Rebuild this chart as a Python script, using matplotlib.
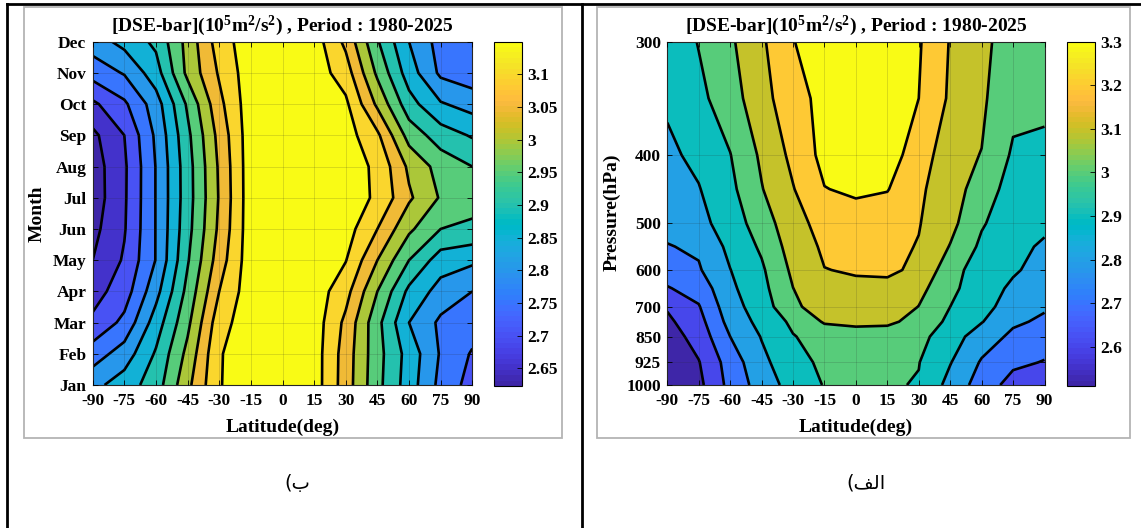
import numpy as np
import matplotlib
matplotlib.use('Agg')
import matplotlib.pyplot as plt
from matplotlib.colors import ListedColormap, Normalize
from matplotlib.cm import ScalarMappable
from matplotlib.lines import Line2D
from matplotlib.patches import Rectangle

plt.rcParams['font.family'] = ['Liberation Serif', 'DejaVu Sans']
plt.rcParams['font.weight'] = 'bold'
plt.rcParams['mathtext.fontset'] = 'custom'
plt.rcParams['mathtext.rm'] = 'Liberation Serif:bold'
plt.rcParams['mathtext.default'] = 'rm'
plt.rcParams['axes.unicode_minus'] = False

# ---------------- data ----------------
lat = [-90, -75, -60, -45, -30, -15, 0, 15, 30, 45, 60, 75, 90]
month_names = ['Jan', 'Feb', 'Mar', 'Apr', 'May', 'Jun',
               'Jul', 'Aug', 'Sep', 'Oct', 'Nov', 'Dec']

# DSE (1e5 m2/s2) per month (rows Jan..Dec) and latitude
dse_jan = [2.835, 2.875, 2.925, 3.037, 3.147, 3.18, 3.18, 3.175, 3.075, 2.965, 2.875, 2.785, 2.73]
dse_feb = [2.775, 2.823, 2.906, 3.014, 3.146, 3.18, 3.18, 3.175, 3.077, 2.968, 2.88, 2.795, 2.745]
dse_mar = [2.71, 2.763, 2.874, 2.988, 3.13, 3.18, 3.18, 3.177, 3.088, 2.965, 2.85, 2.79, 2.775]
dse_apr = [2.68, 2.725, 2.833, 2.965, 3.1, 3.18, 3.18, 3.178, 3.118, 3.0, 2.888, 2.83, 2.8]
dse_may = [2.65, 2.706, 2.802, 2.945, 3.075, 3.18, 3.18, 3.18, 3.152, 3.05, 2.95, 2.875, 2.86]
dse_jun = [2.635, 2.696, 2.802, 2.933, 3.06, 3.18, 3.18, 3.18, 3.172, 3.10, 3.01, 2.95, 2.94]
dse_jul = [2.623, 2.693, 2.802, 2.928, 3.054, 3.18, 3.18, 3.18, 3.176, 3.142, 3.058, 2.995, 2.97]
dse_aug = [2.625, 2.692, 2.802, 2.929, 3.057, 3.18, 3.18, 3.18, 3.176, 3.140, 3.04, 2.98, 2.95]
dse_sep = [2.638, 2.70, 2.809, 2.938, 3.066, 3.18, 3.18, 3.18, 3.172, 3.11, 2.98, 2.925, 2.895]
dse_oct = [2.69, 2.741, 2.826, 2.958, 3.086, 3.18, 3.18, 3.18, 3.16, 3.04, 2.92, 2.855, 2.83]
dse_nov = [2.77, 2.804, 2.878, 3.0125, 3.106, 3.18, 3.18, 3.177, 3.125, 2.99, 2.875, 2.79, 2.77]
dse_dec = [2.825, 2.866, 2.911, 3.017, 3.125, 3.18, 3.18, 3.175, 3.088, 2.955, 2.85, 2.78, 2.76]

# DSE per pressure level (rows) and latitude
plev = [300, 350, 400, 450, 500, 550, 600, 650, 700, 775, 850, 925, 1000]
dse_300 = [2.93, 3.005, 3.084, 3.184, 3.298, 3.33, 3.34, 3.33, 3.31, 3.194, 3.115, 3.07, 3.03]
dse_350 = [2.915, 2.975, 3.055, 3.165, 3.262, 3.33, 3.34, 3.33, 3.30, 3.185, 3.115, 3.03, 3.01]
dse_400 = [2.88, 2.924, 2.997, 3.117, 3.225, 3.33, 3.34, 3.33, 3.268, 3.122, 3.098, 2.986, 2.99]
dse_450 = [2.87, 2.895, 2.975, 3.095, 3.195, 3.297, 3.315, 3.305, 3.215, 3.15, 3.05, 2.96, 2.94]
dse_500 = [2.83, 2.87, 2.947, 3.05, 3.165, 3.235, 3.26, 3.24, 3.205, 3.13, 3.01, 2.94, 2.915]
dse_550 = [2.795, 2.815, 2.925, 3.015, 3.145, 3.215, 3.235, 3.225, 3.195, 3.095, 2.98, 2.92, 2.89]
dse_600 = [2.75, 2.79, 2.898, 2.985, 3.12, 3.198, 3.207, 3.21, 3.189, 3.036, 2.954, 2.91, 2.87]
dse_650 = [2.693, 2.74, 2.88, 2.97, 3.099, 3.175, 3.185, 3.185, 3.13, 3.025, 2.94, 2.885, 2.84]
dse_700 = [2.61, 2.693, 2.86, 2.95, 3.08, 3.15, 3.165, 3.16, 3.098, 3.0, 2.93, 2.86, 2.81]
dse_775 = [2.58, 2.665, 2.835, 2.93, 3.02, 3.11, 3.12, 3.115, 3.075, 2.975, 2.905, 2.815, 2.785]
dse_850 = [2.55, 2.64, 2.8, 2.905, 2.995, 3.04, 3.06, 3.06, 3.03, 2.945, 2.85, 2.78, 2.745]
dse_925 = [2.52, 2.595, 2.745, 2.875, 2.965, 3.02, 3.03, 3.03, 3.003, 2.905, 2.79, 2.72, 2.695]
dse_1000 = [2.51, 2.575, 2.73, 2.845, 2.94, 3.005, 3.015, 3.01, 2.994, 2.867, 2.755, 2.662, 2.64]

month_levels = [2.65, 2.7, 2.75, 2.8, 2.85, 2.9, 2.95, 3.0, 3.05, 3.1, 3.15]
month_clim = (2.623, 3.150)
month_cticks = [2.65, 2.7, 2.75, 2.8, 2.85, 2.9, 2.95, 3.0, 3.05, 3.1]
press_levels = [2.6, 2.7, 2.8, 2.9, 3.0, 3.1, 3.2, 3.3]
press_clim = (2.51, 3.30)
press_cticks = [2.6, 2.7, 2.8, 2.9, 3.0, 3.1, 3.2, 3.3]
press_ticks = [300, 400, 500, 600, 700, 850, 925, 1000]

# where the pressure ticks sit on the (non uniform) MATLAB axis, 0=top 1=bottom
press_tick_pos = [0.0, 0.330, 0.529, 0.665, 0.772, 0.859, 0.934, 1.0]

# parula colormap (64 entries)
parula_data = [
    [0.2422, 0.1504, 0.6603], [0.2504, 0.1650, 0.7076], [0.2578, 0.1818, 0.7511], [0.2647, 0.1978, 0.7952],
    [0.2706, 0.2147, 0.8364], [0.2751, 0.2342, 0.8710], [0.2783, 0.2559, 0.8991], [0.2803, 0.2782, 0.9221],
    [0.2813, 0.3006, 0.9414], [0.2810, 0.3228, 0.9579], [0.2795, 0.3447, 0.9717], [0.2760, 0.3667, 0.9829],
    [0.2699, 0.3892, 0.9906], [0.2602, 0.4123, 0.9952], [0.2440, 0.4358, 0.9988], [0.2206, 0.4603, 0.9973],
    [0.1963, 0.4847, 0.9892], [0.1834, 0.5074, 0.9798], [0.1786, 0.5289, 0.9682], [0.1764, 0.5499, 0.9520],
    [0.1687, 0.5703, 0.9359], [0.1540, 0.5902, 0.9218], [0.1460, 0.6091, 0.9079], [0.1380, 0.6276, 0.8973],
    [0.1248, 0.6459, 0.8883], [0.1113, 0.6635, 0.8763], [0.0952, 0.6798, 0.8598], [0.0689, 0.6948, 0.8394],
    [0.0297, 0.7082, 0.8163], [0.0036, 0.7203, 0.7917], [0.0067, 0.7312, 0.7660], [0.0433, 0.7411, 0.7394],
    [0.0964, 0.7500, 0.7120], [0.1408, 0.7584, 0.6842], [0.1717, 0.7670, 0.6554], [0.1938, 0.7758, 0.6251],
    [0.2161, 0.7843, 0.5923], [0.2470, 0.7918, 0.5567], [0.2906, 0.7973, 0.5188], [0.3406, 0.8008, 0.4789],
    [0.3909, 0.8029, 0.4354], [0.4456, 0.8024, 0.3909], [0.5044, 0.7993, 0.3480], [0.5616, 0.7942, 0.3045],
    [0.6174, 0.7876, 0.2612], [0.6720, 0.7793, 0.2227], [0.7242, 0.7698, 0.1910], [0.7738, 0.7598, 0.1646],
    [0.8203, 0.7498, 0.1535], [0.8634, 0.7406, 0.1596], [0.9035, 0.7330, 0.1774], [0.9393, 0.7288, 0.2100],
    [0.9728, 0.7298, 0.2394], [0.9956, 0.7434, 0.2371], [0.9970, 0.7659, 0.2199], [0.9952, 0.7893, 0.2028],
    [0.9892, 0.8136, 0.1885], [0.9786, 0.8386, 0.1766], [0.9676, 0.8639, 0.1643], [0.9610, 0.8890, 0.1537],
    [0.9597, 0.9135, 0.1423], [0.9628, 0.9373, 0.1265], [0.9691, 0.9606, 0.1064], [0.9769, 0.9839, 0.0805]]
parula = ListedColormap(parula_data, name='parula').resampled(256)

W, H = 1141, 528
fig = plt.figure(figsize=(W / 100, H / 100), dpi=100)


def fbox(x0, y0, x1, y1):
    # pixel box (top-left origin) -> figure fraction [l, b, w, h]
    return [x0 / W, 1 - y1 / H, (x1 - x0) / W, (y1 - y0) / H]


def panel(ax, cax, x, y, z, levels, clim, cticks):
    norm = Normalize(*clim)
    bounds = [min(np.min(z), levels[0]) - 0.1] + levels + [max(np.max(z), levels[-1]) + 0.1]
    fill_vals = [clim[0]] + levels
    cols = [parula(norm(v)) for v in fill_vals]
    ax.contourf(x, y, z, levels=bounds, colors=cols)
    ax.contour(x, y, z, levels=levels, colors='k', linewidths=1.9)
    ax.set_xlim(-90, 90)
    ax.set_xticks(range(-90, 91, 15))
    ax.grid(True, color=(0.15, 0.15, 0.15), alpha=0.18, lw=0.6)
    ax.set_axisbelow(False)
    ax.tick_params(direction='in', top=True, right=True, length=3.5, width=0.6,
                   labelsize=12.5, pad=6, colors='k')
    ax.tick_params(axis='y', pad=4.5)
    for s in ax.spines.values():
        s.set_linewidth(0.8)
        s.set_color((0.15, 0.15, 0.15))
    for lab in ax.get_xticklabels() + ax.get_yticklabels():
        lab.set_fontweight('bold')
    ax.text(0.5, -0.122, 'Latitude(deg)', transform=ax.transAxes, ha='center', va='center',
            fontsize=14, fontweight='bold')
    ax.text(0.5, 1.045, r'[DSE-bar](10$^5$m$^2$/s$^2$) , Period : 1980-2025',
            transform=ax.transAxes, ha='center', va='center', fontsize=14, fontweight='bold')
    cb = fig.colorbar(ScalarMappable(norm=norm, cmap=parula), cax=cax)
    cb.set_ticks(cticks)
    cb.set_ticklabels(['%g' % t for t in cticks])
    cb.ax.tick_params(direction='in', length=3.5, width=0.6, labelsize=12.5, pad=4)
    cb.outline.set_linewidth(0.8)
    for lab in cb.ax.get_yticklabels():
        lab.set_fontweight('bold')


# ---------------- left panel: month vs latitude ----------------
z_month = np.array([dse_jan, dse_feb, dse_mar, dse_apr, dse_may, dse_jun,
                    dse_jul, dse_aug, dse_sep, dse_oct, dse_nov, dse_dec])
ax1 = fig.add_axes(fbox(92.7, 41.7, 472.3, 385))
cax1 = fig.add_axes(fbox(494.3, 41.7, 522, 386))
panel(ax1, cax1, lat, np.arange(1, 13), z_month, month_levels, month_clim, month_cticks)
ax1.set_ylim(1, 12)
ax1.set_yticks(range(1, 13))
ax1.set_yticklabels(month_names, fontweight='bold')
ax1.text(-0.147, 0.5, 'Month', transform=ax1.transAxes, rotation=90, ha='center', va='center',
         fontsize=14, fontweight='bold')

# ---------------- right panel: pressure vs latitude ----------------
z_press = np.array([dse_300, dse_350, dse_400, dse_450, dse_500, dse_550, dse_600,
                    dse_650, dse_700, dse_775, dse_850, dse_925, dse_1000])
ax2 = fig.add_axes(fbox(667.3, 41.7, 1044.5, 385))
cax2 = fig.add_axes(fbox(1067.3, 41.7, 1095, 386))
ax2.set_yscale('function', functions=(lambda p: np.interp(p, press_ticks, press_tick_pos),
                                      lambda s: np.interp(s, press_tick_pos, press_ticks)))
panel(ax2, cax2, lat, plev, z_press, press_levels, press_clim, press_cticks)
ax2.set_ylim(1000, 300)
ax2.set_yticks(press_ticks)
ax2.set_yticklabels([str(p) for p in press_ticks], fontweight='bold')
ax2.yaxis.set_minor_locator(matplotlib.ticker.NullLocator())
ax2.text(-0.1474, 0.504, 'Pressure(hPa)', transform=ax2.transAxes, rotation=90, ha='center',
         va='center', fontsize=14, fontweight='bold')

# ---------------- page decoration ----------------
for x0, x1 in [(24, 562), (597, 1130)]:
    b = fbox(x0, 7.3, x1, 437.5)
    fig.add_artist(Rectangle((b[0], b[1]), b[2], b[3], transform=fig.transFigure,
                             fill=False, ec='#b4b4b4', lw=1.3))
fig.add_artist(Line2D([7.3 / W, 1.0], [1 - 4 / H, 1 - 4 / H], transform=fig.transFigure,
                      color='k', lw=2))
for xv in [7.3, 581.5]:
    fig.add_artist(Line2D([xv / W, xv / W], [0, 1 - 4 / H], transform=fig.transFigure,
                          color='k', lw=2))

fig.text(297 / W, 1 - 483 / H, '(\u0628', ha='center', va='center', fontsize=14,
         fontweight='normal', family=['DejaVu Sans'])
fig.text(866 / W, 1 - 483 / H, '(\uFED2\uFEDF\uFE8D', ha='center', va='center', fontsize=14,
         fontweight='normal', family=['DejaVu Sans'])

fig.savefig('out.png', dpi=100)
